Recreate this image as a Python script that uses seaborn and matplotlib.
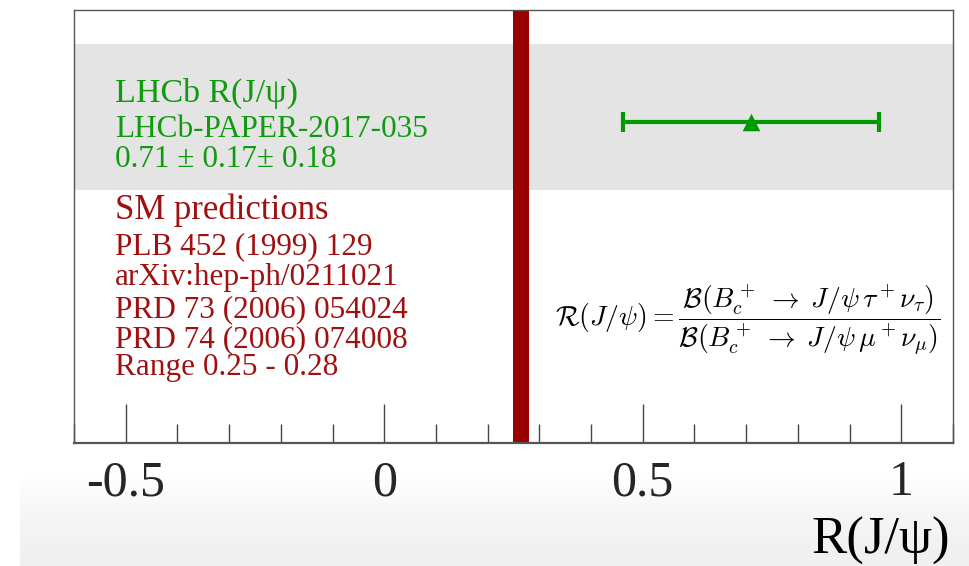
import numpy as np
import matplotlib
matplotlib.use("Agg")
import matplotlib.pyplot as plt
from matplotlib.ticker import FixedLocator, MultipleLocator
import seaborn as sns

# Measurement and SM range
lhcb_value = [0.71]
lhcb_stat = 0.17
lhcb_syst = 0.18
sm_range = [0.25, 0.28]

major_ticks = [-0.5, 0.0, 0.5, 1.0]
major_labels = ["-0.5", "0", "0.5", "1"]

lhcb_lines = ["LHCb R(J/\u03c8)", "LHCb-PAPER-2017-035", "0.71 \u00b1 0.17\u00b1 0.18"]
sm_lines = ["SM predictions", "PLB 452 (1999) 129", "arXiv:hep-ph/0211021",
            "PRD 73 (2006) 054024", "PRD 74 (2006) 074008", "Range 0.25 - 0.28"]

sns.set_theme(style="white")
plt.rcParams["font.family"] = ["Liberation Serif", "DejaVu Serif"]
plt.rcParams["mathtext.fontset"] = "cm"

W, H = 970, 566
fig = plt.figure(figsize=(W / 100, H / 100), dpi=100)

# soft shading along the bottom edge
bg = fig.add_axes([20 / W, 0, 950 / W, 90 / H], zorder=-10)
grad = np.linspace(1.0, 0.0, 100)[:, None] ** 1.6 * np.ones((1, 10))
bg.imshow(grad, aspect="auto", cmap=matplotlib.colors.LinearSegmentedColormap.from_list(
    "fade", ["#f0f0f0", "#ffffff"]), vmin=0, vmax=1, extent=[0, 1, 0, 1])
bg.set_axis_off()

ax = fig.add_axes([74 / W, (H - 443) / H, (953 - 74) / W, (443 - 10) / H])
ax.set_facecolor("none")
ax.set_xlim(-0.6, 1.1)
ax.set_ylim(0, 1)

# experimental band and SM prediction
ax.axhspan(0.584, 0.921, color="#e4e4e4", lw=0, zorder=0)
ax.axvspan(sm_range[0], sm_range[1], color="#990000", lw=0, zorder=2)

green = "#009900"
total_err = float(np.hypot(lhcb_stat, lhcb_syst))
y_pt = [0.742]
ax.errorbar(lhcb_value, y_pt, xerr=total_err, fmt="none", ecolor=green,
            elinewidth=3, capsize=7, capthick=3, zorder=3)
sns.scatterplot(x=lhcb_value, y=y_pt, marker="^", s=160, color=green,
                edgecolor=green, linewidth=0, ax=ax, zorder=4)

# axes styling
for side, sp in ax.spines.items():
    sp.set_color("#555555")
    sp.set_linewidth(1.0)
ax.spines["bottom"].set_linewidth(1.6)
ax.xaxis.set_major_locator(FixedLocator(major_ticks))
ax.set_xticklabels(major_labels)
ax.xaxis.set_minor_locator(MultipleLocator(0.1))
ax.tick_params(axis="x", which="major", direction="in", length=28, width=1.0,
               color="#444444", labelsize=36, pad=12, bottom=True)
ax.tick_params(axis="x", which="minor", direction="in", length=14, width=1.0,
               color="#444444", bottom=True)
ax.set_yticks([])

fig.text(950 / W, (H - 554) / H, "R(J/\u03c8)", ha="right", va="baseline",
         fontsize=38, color="black")

# legend-style text blocks
tx = 115 / W
green_base = [102, 137, 167]
green_size = [24.5, 22.5, 22.5]
for s, b, fs in zip(lhcb_lines, green_base, green_size):
    fig.text(tx, (H - b) / H, s, ha="left", va="baseline", fontsize=fs, color="#109a10")

red = "#a01010"
red_base = [219, 254, 285, 317, 347, 375]
red_size = [25, 22.5, 22.5, 22.5, 22.5, 22.5]
for s, b, fs in zip(sm_lines, red_base, red_size):
    fig.text(tx, (H - b) / H, s, ha="left", va="baseline", fontsize=fs, color=red)

formula = (r"$\mathcal{R}(J/\psi) = \dfrac{\mathcal{B}(B_c^+ \;\rightarrow\; J/\psi\,\tau^+\nu_\tau)}"
           r"{\mathcal{B}(B_c^+ \;\rightarrow\; J/\psi\,\mu^+\nu_\mu)}$")
fig.text(555 / W, (H - 320) / H, formula, ha="left", va="center", fontsize=20, color="black")

fig.savefig("out.png", dpi=100)
